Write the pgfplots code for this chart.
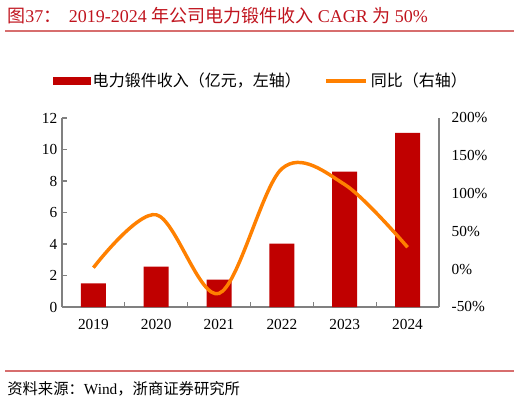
\documentclass[border=0pt]{standalone}
\usepackage{pgfplots}
\pgfplotsset{compat=1.18}
\usepackage{fontspec}
\setmainfont{Liberation Serif}
\newfontfamily\cjk{Noto Sans CJK SC}

\definecolor{barred}{RGB}{192,0,0}
\definecolor{lineorange}{RGB}{255,128,0}
\definecolor{titlered}{RGB}{192,20,30}
\definecolor{rulepink}{RGB}{215,110,110}
\definecolor{axisgrey}{RGB}{128,128,128}

\pgfplotsset{
  commonaxis/.style={
    at={(46.5pt,-230.25pt)}, anchor=south west,
    scale only axis, width=282.75pt, height=141.75pt,
    xmin=-0.5, xmax=5.5,
    axis line style={axisgrey, line width=0.8pt},
    tick align=inside,
    tick style={axisgrey, line width=0.8pt},
    major tick length=3.5pt, minor tick length=3.5pt,
    tick label style={font=\fontsize{11.5}{13}\selectfont, black},
    /pgf/number format/assume math mode=true,
  },
}

\begin{document}
\begin{tikzpicture}
\path[use as bounding box] (0,0) rectangle (390pt,-301.5pt);

% title and rules
\node[anchor=west, inner sep=0pt, text=titlered, font=\fontsize{13.5}{15}\selectfont]
  at (5.25pt,-11.5pt) {{\cjk 图}37{\cjk ：}\, 2019-2024 {\cjk 年公司电力锻件收入} CAGR {\cjk 为} 50\%};
\draw[rulepink, line width=1pt] (3.75pt,-23.25pt) -- (385.5pt,-23.25pt);
\draw[rulepink, line width=1pt] (3.75pt,-278.25pt) -- (385.5pt,-278.25pt);
\node[anchor=west, inner sep=0pt, font=\fontsize{11.5}{13}\selectfont]
  at (5.25pt,-291.75pt) {{\cjk 资料来源：}Wind{\cjk ，浙商证券研究所}};

% bars, left axis
\begin{axis}[
    commonaxis,
    axis x line*=bottom,
    axis y line*=left,
    ymin=0, ymax=12,
    ytick={0,2,...,12},
    xtick={0,...,5},
    xticklabels={2019,2020,2021,2022,2023,2024},
    major x tick style={draw=none},
    minor xtick={0.5,1.5,2.5,3.5,4.5},
    xticklabel style={yshift=-6pt},
    ]
\addplot[ybar, bar width=18.75pt, fill=barred, draw=none] coordinates {
    (0,1.50) (1,2.57) (2,1.74) (3,4.02) (4,8.60) (5,11.05)
};
\end{axis}

% growth line, right axis
\begin{axis}[
    commonaxis,
    axis x line=none,
    axis y line*=right,
    ymin=-50, ymax=200,
    ytick={-50,0,50,100,150,200},
    yticklabel={\pgfmathprintnumber{\tick}\%},
    ytick style={draw=none},
    yticklabel style={xshift=6pt},
    legend columns=2,
    legend style={
      at={(0.528,1.196)}, anchor=center,
      draw=none, fill=none,
      font=\cjk\fontsize{12}{14}\selectfont,
      /tikz/every even column/.append style={column sep=16pt},
      inner sep=0pt,
    },
    ]
\addlegendimage{legend image code/.code={
    \fill[barred] (0pt,-2.6pt) rectangle (27.75pt,2.6pt);}}
\addlegendentry{电力锻件收入（亿元，左轴）}
\addplot[lineorange, line width=2.6pt, smooth, tension=0.55,
    legend image code/.code={
    \draw[lineorange, line width=2.6pt] (0pt,0pt) -- (30pt,0pt);}]
  coordinates {
    (0,2) (1,72) (2,-32) (3,133) (4,112) (5,29)
};
\addlegendentry{同比（右轴）}
\end{axis}
\end{tikzpicture}
\end{document}
